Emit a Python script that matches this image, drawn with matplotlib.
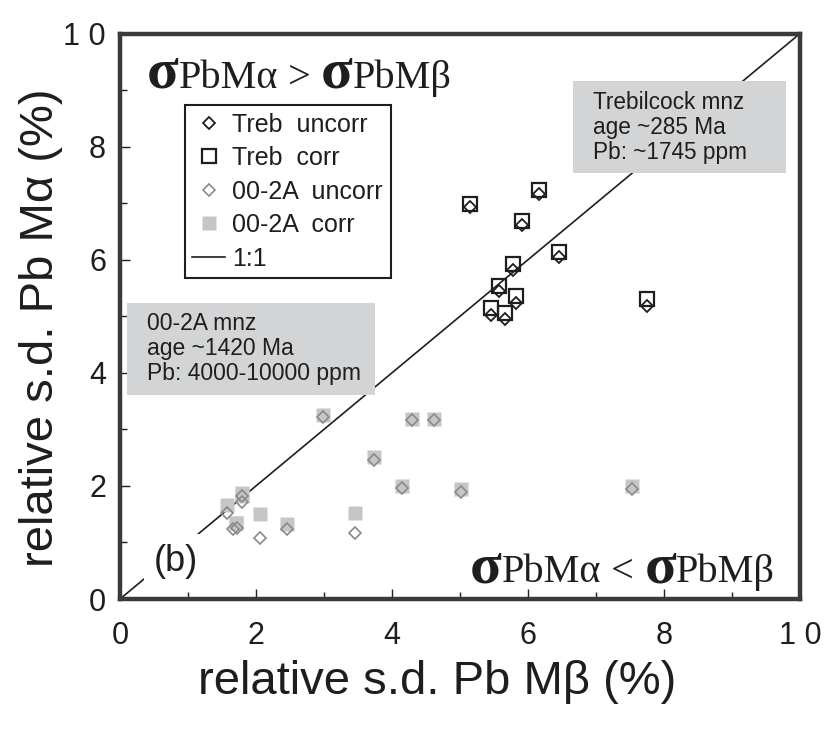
import matplotlib
matplotlib.use("Agg")
import matplotlib.pyplot as plt
from matplotlib.patches import Rectangle
from matplotlib.lines import Line2D

plt.rcParams['font.family'] = ['Liberation Sans', 'DejaVu Sans']

# Trebilcock monazite: relative s.d. of Pb M-beta (x) and Pb M-alpha (y), %
treb_mb = [5.15, 6.16, 5.91, 5.78, 6.45, 5.57, 5.83, 5.45, 5.66, 7.75]
treb_ma_uncorr = [6.94, 7.17, 6.61, 5.82, 6.04, 5.45, 5.24, 5.03, 4.95, 5.19]
treb_ma_corr = [6.99, 7.24, 6.69, 5.92, 6.14, 5.53, 5.35, 5.15, 5.05, 5.30]

# 00-2A monazite
a_mb_uncorr = [2.99, 4.29, 4.62, 3.73, 4.15, 5.01, 1.80, 1.80, 1.58, 1.66, 1.72, 2.06, 2.45, 3.46, 7.53]
a_ma_uncorr = [3.21, 3.17, 3.17, 2.46, 1.96, 1.90, 1.82, 1.72, 1.52, 1.23, 1.25, 1.08, 1.24, 1.16, 1.94]
a_mb_corr = [2.99, 4.29, 4.62, 3.73, 4.15, 5.01, 1.80, 1.80, 1.58, 1.70, 1.71, 2.06, 2.45, 3.46, 7.53]
a_ma_corr = [3.25, 3.19, 3.19, 2.51, 2.00, 1.94, 1.87, 1.83, 1.66, 1.34, 1.34, 1.50, 1.33, 1.52, 1.99]

one_to_one = [0, 10]
major_ticks = [0, 2, 4, 6, 8, 10]
minor_ticks = [1, 3, 5, 7, 9]
tick_labels = ['0', '2', '4', '6', '8', '1 0']

legend_labels = ['Treb  uncorr', 'Treb  corr', '00-2A  uncorr', '00-2A  corr', '1:1']
treb_note = 'Trebilcock mnz\nage ~285 Ma\nPb: ~1745 ppm'
a_note = '00-2A mnz\nage ~1420 Ma\nPb: 4000-10000 ppm'

BLACK = '#1e1e1e'
GRAY_EDGE = '#8a8a8a'
GRAY_FILL = '#c6c6c6'
NOTE_BG = '#d3d4d6'

fig = plt.figure(figsize=(8.28, 7.29), dpi=100)
ax = fig.add_axes([0.1449, 0.1783, 0.8213, 0.7757])
ax.set_xlim(0, 10)
ax.set_ylim(0, 10)

# 1:1 reference line
ax.plot(one_to_one, one_to_one, color=BLACK, lw=1.2, zorder=1)

# shaded notes (text anchored at the baseline of the last line)
ax.add_patch(Rectangle((6.66, 7.53), 3.13, 1.63, fc=NOTE_BG, ec='none', zorder=2))
ax.text(6.96, 7.78, treb_note, fontsize=16.3, color=BLACK, va='baseline',
        linespacing=1.12, zorder=3)
ax.add_patch(Rectangle((0.10, 3.61), 3.65, 1.62, fc=NOTE_BG, ec='none', zorder=2))
ax.text(0.40, 3.87, a_note, fontsize=16.5, color=BLACK, va='baseline',
        linespacing=1.12, zorder=3)

# data
ax.plot(a_mb_corr, a_ma_corr, ls='none', marker='s', ms=10.6, mfc=GRAY_FILL,
        mec='none', zorder=4)
ax.plot(a_mb_uncorr, a_ma_uncorr, ls='none', marker='D', mfc='none', ms=6.4,
        mec=GRAY_EDGE, mew=1.2, zorder=5)
ax.plot(treb_mb, treb_ma_corr, ls='none', marker='s', ms=9.8, mfc='none',
        mec=BLACK, mew=1.6, zorder=6)
ax.plot(treb_mb, treb_ma_uncorr, ls='none', marker='D', mfc='none', ms=6.4,
        mec=BLACK, mew=1.3, zorder=7)

# panel letter
ax.text(0.49, 0.50, '(b)', fontsize=26, color=BLACK, va='baseline', zorder=3,
        bbox=dict(fc='white', ec='none', pad=7))

# axes styling
for sp in ax.spines.values():
    sp.set_linewidth(3.2)
    sp.set_color('#3a3a3a')
ax.set_xticks(major_ticks)
ax.set_yticks(major_ticks)
ax.set_xticks(minor_ticks, minor=True)
ax.set_yticks(minor_ticks, minor=True)
ax.set_xticklabels(tick_labels)
ax.set_yticklabels(tick_labels)
ax.tick_params(which='both', direction='in', color=BLACK, width=1,
               top=False, right=False)
ax.tick_params(which='major', length=7)
ax.tick_params(which='minor', length=5)
ax.tick_params(axis='x', which='major', labelsize=22, pad=16, labelcolor=BLACK)
ax.tick_params(axis='y', which='major', labelsize=22, pad=10, labelcolor=BLACK)
ax.set_xlabel('relative s.d. Pb Mβ (%)', fontsize=34, color=BLACK, labelpad=6)
ax.xaxis.label.set_x(0.467)
ax.set_ylabel('relative s.d. Pb Mα (%)', fontsize=34, color=BLACK, labelpad=0)
ax.yaxis.label.set_y(0.48)

# legend
handles = [
    Line2D([], [], ls='none', marker='D', mfc='none', mec=BLACK, mew=1.3, ms=6.4),
    Line2D([], [], ls='none', marker='s', mfc='none', mec=BLACK, mew=1.6, ms=9.8),
    Line2D([], [], ls='none', marker='D', mfc='none', mec=GRAY_EDGE, mew=1.2, ms=6.4),
    Line2D([], [], ls='none', marker='s', mfc=GRAY_FILL, mec='none', ms=10.6),
    Line2D([], [], color=BLACK, lw=1.2),
]
leg = ax.legend(handles, legend_labels, loc='upper left',
                bbox_to_anchor=(0.0956, 0.8736), borderaxespad=0,
                fontsize=18, frameon=True, fancybox=False, framealpha=1,
                handlelength=1.3, handletextpad=0.3, labelspacing=0.38,
                borderpad=0.3, labelcolor=BLACK)
leg.get_frame().set_edgecolor(BLACK)
leg.get_frame().set_linewidth(1.5)
leg.set_zorder(8)


def sigma_relation(x, y, sign):
    """Write 'σPbMα <sign> σPbMβ' starting at data point (x, y) on the baseline."""
    renderer = fig.canvas.get_renderer()
    px, py = ax.transData.transform((x, y))
    pieces = [('σ', 42, 'bold'), ('PbMα', 29, 'normal'), (' ' + sign + ' ', 29, 'normal'),
              ('σ', 42, 'bold'), ('PbMβ', 29, 'normal')]
    inv = fig.transFigure.inverted()
    for s, size, weight in pieces:
        fx, fy = inv.transform((px, py))
        t = fig.text(fx, fy, s, fontsize=size, fontweight=weight,
                     family=['Liberation Serif', 'DejaVu Serif'], color=BLACK,
                     va='baseline', ha='left', zorder=9)
        px += t.get_window_extent(renderer=renderer).width


sigma_relation(0.40, 9.04, '>')
sigma_relation(5.15, 0.30, '<')

fig.savefig('out.png', dpi=100)
